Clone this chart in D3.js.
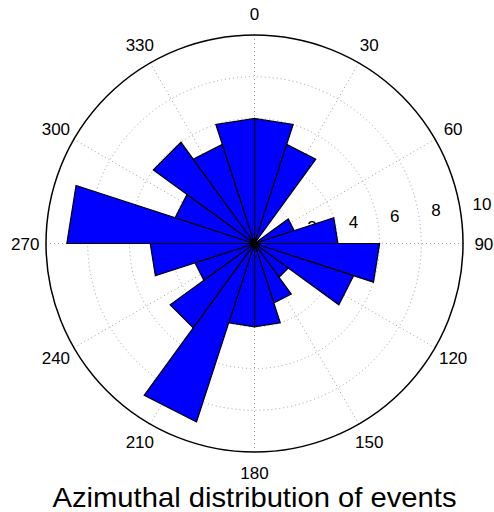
<!DOCTYPE html>
<html>
<head>
<meta charset="utf-8">
<script src="https://cdn.jsdelivr.net/npm/d3@7"></script>
<style>
html,body{margin:0;padding:0;background:#fff;}
svg{display:block;}
text{font-family:"Liberation Sans",Arial,Helvetica,sans-serif;fill:#000;}
</style>
</head>
<body>
<svg id="chart" width="494" height="512"></svg>
<script>
// Rose histogram: 20 bins of 18 degrees, starting at 0 (north), clockwise
const binStarts = [0,18,36,54,72,90,108,126,144,162,180,198,216,234,252,270,288,306,324,342];
const counts    = [6,5,0,2,4,6,5,2,3,4,4,9,5,3,5,9,4,6,5,6];
const binWidth = 18;
const radialTicks = [2,4,6,8,10];
const angleTicks = [0,30,60,90,120,150,180,210,240,270,300,330];
const titleText = "Azimuthal distribution of events";

const svg = d3.select("#chart");
const cx = 254.5, cy = 243.5, R = 208.5;
const rScale = d3.scaleLinear().domain([0, 10]).range([0, R]);
const aScale = d3.scaleLinear().domain([0, 360]).range([0, 2 * Math.PI]);

const g = svg.append("g").attr("transform", `translate(${cx},${cy})`);

function pt(deg, r) {
  const a = aScale(deg);
  return [r * Math.sin(a), -r * Math.cos(a)];
}

// grid circles (dotted)
g.selectAll("circle.grid").data(radialTicks.slice(0, -1)).enter().append("circle")
  .attr("class", "grid").attr("r", d => rScale(d))
  .attr("fill", "none").attr("stroke", "#a0a0a0").attr("stroke-width", 1)
  .attr("stroke-dasharray", "1 3");

// spokes every 30 deg (dotted, through center)
g.selectAll("line.spoke").data(angleTicks.slice(0, 6)).enter().append("line")
  .attr("class", "spoke")
  .attr("x1", d => pt(d, R)[0]).attr("y1", d => pt(d, R)[1])
  .attr("x2", d => pt(d + 180, R)[0]).attr("y2", d => pt(d + 180, R)[1])
  .attr("stroke", "#a0a0a0").attr("stroke-width", 1).attr("stroke-dasharray", "1 3");

// outer circle
g.append("circle").attr("r", rScale(10)).attr("fill", "none")
  .attr("stroke", "#000").attr("stroke-width", 1.5);

// radial tick labels at 82 deg
radialTicks.forEach(v => {
  const p = pt(82, rScale(v + 0.1));
  g.append("text").attr("x", p[0] + 9.5).attr("y", p[1] - 4)
    .attr("font-size", 17).attr("text-anchor", "start").text(v);
});

// angle labels
g.selectAll("text.ang").data(angleTicks).enter().append("text")
  .attr("class", "ang")
  .attr("x", d => pt(d, R * 1.1)[0]).attr("y", d => pt(d, R * 1.1)[1])
  .attr("dy", "0.36em").attr("text-anchor", "middle").attr("font-size", 17)
  .text(d => d);

// bars as triangles (MATLAB rose style)
const line = d3.lineRadial()
  .angle(d => aScale(d[0]))
  .radius(d => rScale(d[1]))
  .curve(d3.curveLinearClosed);

g.selectAll("path.bar").data(binStarts.map((s, i) => ({s, v: counts[i]}))).enter()
  .append("path").attr("class", "bar")
  .attr("d", d => line([[d.s, 0], [d.s, d.v], [d.s + binWidth, d.v]]))
  .attr("fill", "#0000ff").attr("stroke", "#000").attr("stroke-width", 1.2)
  .attr("stroke-linejoin", "miter");

// title
svg.append("text").attr("x", cx).attr("y", 507).attr("text-anchor", "middle")
  .attr("font-size", 28).attr("textLength", 404).attr("lengthAdjust", "spacingAndGlyphs")
  .text(titleText);
</script>
</body>
</html>
